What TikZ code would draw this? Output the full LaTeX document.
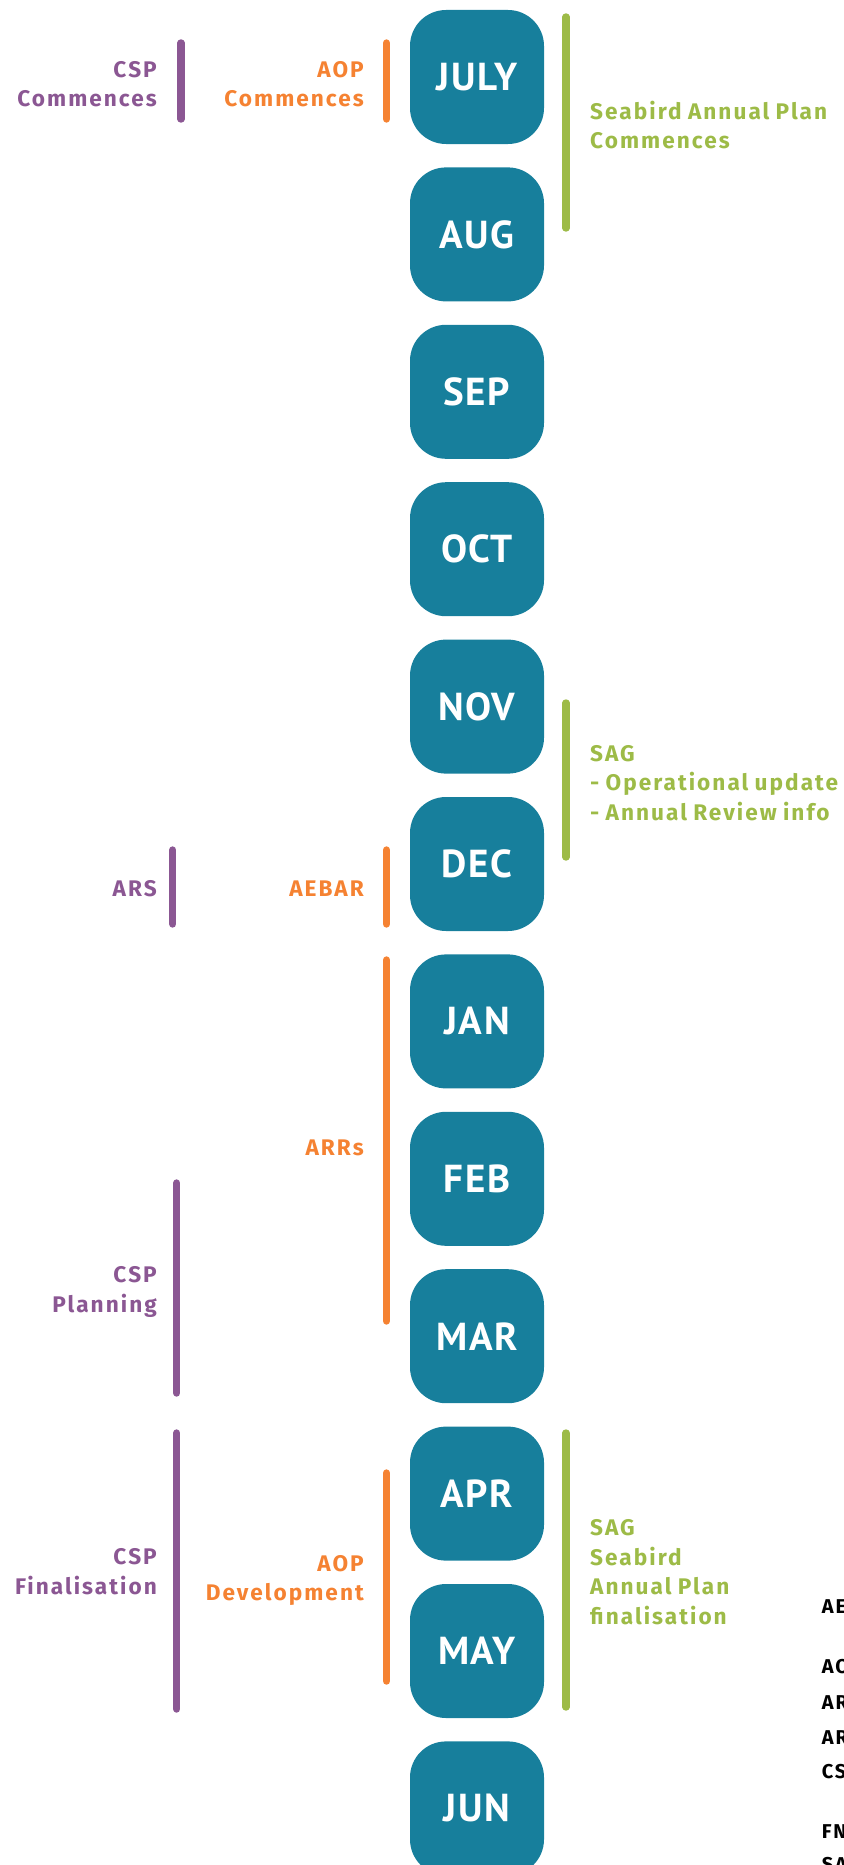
\documentclass[tikz,border=0pt]{standalone}
\usepackage{fontspec}
\setmainfont{PT Sans}
\newfontfamily\labfam{Fira Sans}[LetterSpace=9,WordSpace=0.85]
\newfontfamily\monfam{PT Sans}[LetterSpace=4]
\newcommand\labfont{\labfam\bfseries\fontsize{22.6}{29.5}\selectfont}
\newcommand\monfont{\monfam\bfseries\fontsize{39}{45}\selectfont}
\newcommand\glofont{\labfam\bfseries\fontsize{20}{24}\selectfont}
\definecolor{tealbox}{HTML}{177F9C}
\definecolor{cpurple}{HTML}{8B5793}
\definecolor{corange}{HTML}{F58232}
\definecolor{cgreen}{HTML}{9DBB47}
\tikzset{
  month/.style={fill=tealbox, rounded corners=36pt, minimum width=134pt, minimum height=134pt, inner sep=0pt, text=white, font=\monfont},
  bar/.style={line width=7.4pt, line cap=round},
  labr/.style={font=\labfont, align=right, anchor=east, inner sep=0pt},
  labl/.style={font=\labfont, align=left, anchor=west, inner sep=0pt},
  glo/.style={font=\glofont, anchor=west, inner sep=0pt, text=black},
}
\begin{document}
\begin{tikzpicture}[x=1pt,y=-1pt]
\useasboundingbox (0,0) rectangle (843,1865);
\clip (0,0) rectangle (843,1865);
% months
\node[month] (jul) at (477,77) {JULY};
\node[month] (aug) at (477,234.4) {AUG};
\node[month] (sep) at (477,391.8) {SEP};
\node[month] (oct) at (477,549.2) {OCT};
\node[month] (nov) at (477,706.6) {NOV};
\node[month] (dec) at (477,864) {DEC};
\node[month] (jan) at (477,1021.4) {JAN};
\node[month] (feb) at (477,1178.8) {FEB};
\node[month] (mar) at (477,1336.2) {MAR};
\node[month] (apr) at (477,1493.6) {APR};
\node[month] (may) at (477,1651) {MAY};
\node[month] (jun) at (477,1808.4) {JUN};
% bars
\draw[bar, cpurple] (181,43) -- (181,119);
\draw[bar, corange] (386.5,43) -- (386.5,119);
\draw[bar, cgreen] (566,17) -- (566,228);
\draw[bar, cgreen] (566,703) -- (566,857);
\draw[bar, cpurple] (172.7,850) -- (172.7,924);
\draw[bar, corange] (386.5,850) -- (386.5,924);
\draw[bar, corange] (386.5,960) -- (386.5,1321);
\draw[bar, cpurple] (176.7,1183) -- (176.7,1393);
\draw[bar, cpurple] (176.7,1433) -- (176.7,1709);
\draw[bar, corange] (386.5,1473) -- (386.5,1681);
\draw[bar, cgreen] (566,1433) -- (566,1707);
% labels
\node[labr, text=cpurple] (cspc) at (157,84) {CSP\\Commences};
\node[labr, text=corange] (aopc) at (364,84) {AOP\\Commences};
\node[labl, text=cgreen] (sapc) at (590,125) {Seabird Annual Plan\\Commences};
\node[labl, text=cgreen] (sag1) at (590,783) {SAG\\- Operational update\\- Annual Review info};
\node[labr, text=cpurple] (ars) at (157,888.5) {ARS};
\node[labr, text=corange] (aebar) at (364,888.5) {AEBAR};
\node[labr, text=corange] (arrs) at (364,1148) {ARRs};
\node[labr, text=cpurple] (cspp) at (157,1292) {CSP\\Planning};
\node[labr, text=cpurple] (cspf) at (157,1571.5) {CSP\\Finalisation};
\node[labr, text=corange] (aopd) at (364,1580.5) {AOP\\Development};
\node[labl, text=cgreen] (sag2) at (590,1572) {SAG\\Seabird\\Annual Plan\\finalisation};
% glossary (cut off at the right edge)
\node[glo] (g1) at (821.7,1607) {AEBAR};
\node[glo] (g2) at (821.7,1667) {AOP};
\node[glo] (g3) at (821.7,1703) {ARR};
\node[glo] (g4) at (821.7,1738) {ARS};
\node[glo] (g5) at (821.7,1772) {CSP};
\node[glo] (g6) at (821.7,1832) {FNZ};
\node[glo] (g7) at (821.7,1865) {SAG};
\end{tikzpicture}
\end{document}
